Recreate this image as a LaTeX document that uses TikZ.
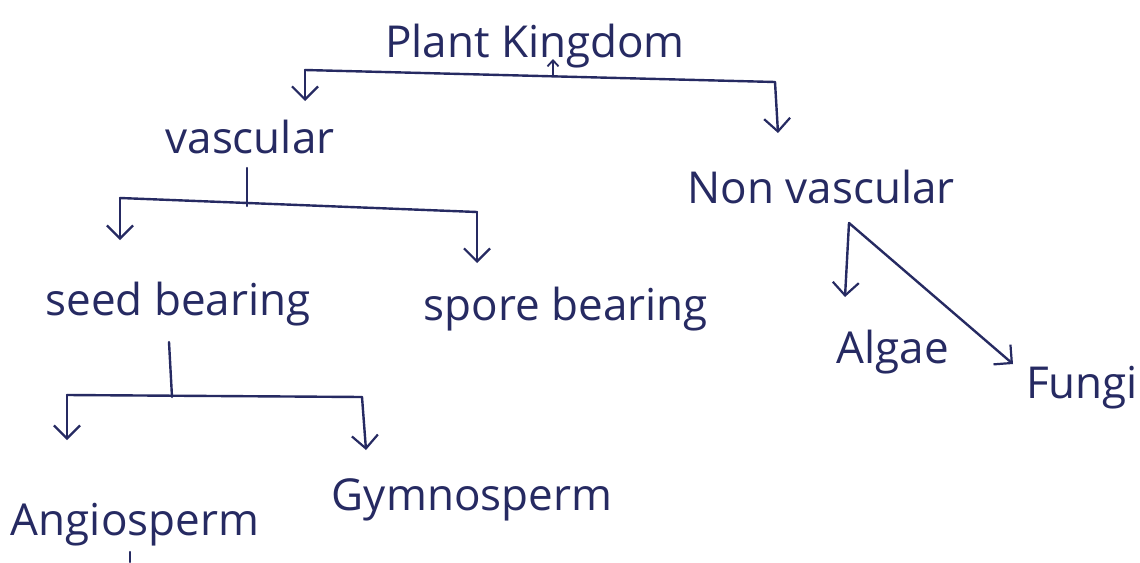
\documentclass[tikz,border=0pt]{standalone}
\usepackage{fontspec}
\setmainfont{Open Sans}
\usetikzlibrary{arrows.meta}
\definecolor{ink}{RGB}{38,42,98}
\begin{document}
\begin{tikzpicture}[x=1pt,y=-1pt,
  lbl/.style={text=ink, font=\fontsize{44}{50}\selectfont, anchor=base, inner sep=0pt},
  ln/.style={draw=ink, line width=2.4pt, line cap=round, line join=round},
  arr/.style={ln, -{Straight Barb[length=13pt,width=26pt,line width=2.2pt]}},
  smallarr/.style={ln, -{Straight Barb[length=6pt,width=11pt,line width=1.8pt]}}]
\useasboundingbox (0,0) rectangle (1140,562);
\fill[white] (0,0) rectangle (1140,562);

% labels
\node[lbl] (pk) at (535,57) {Plant Kingdom};
\node[lbl] (vasc) at (250,153) {vascular};
\node[lbl] (nonv) at (821,203) {Non vascular};
\node[lbl] (seed) at (178,315) {seed bearing};
\node[lbl] (spore) at (566,320) {spore bearing};
\node[lbl] (algae) at (893,363) {Algae};
\node[lbl] (fungi) at (1082,398) {Fungi};
\node[lbl] (angio) at (135,535) {Angiosperm};
\node[lbl] (gymno) at (472,510) {Gymnosperm};

% Plant Kingdom bracket
\coordinate (k1) at (305,70);
\coordinate (k2) at (775,82);
\coordinate (kj) at (553,75);
\coordinate (kup) at (553,59);
\coordinate (k1e) at (305,101);
\coordinate (k2e) at (778,133);
\draw[ln] (k1) -- (k2);
\draw[smallarr] (kj) -- (kup);
\draw[arr] (k1) -- (k1e);
\draw[arr] (k2) -- (k2e);

% vascular bracket
\coordinate (v0) at (247,168);
\coordinate (vj) at (247,206);
\coordinate (v1) at (120,198);
\coordinate (v2) at (477,212);
\coordinate (v1e) at (120,240);
\coordinate (v2e) at (477,263);
\draw[ln] (v0) -- (vj);
\draw[ln] (v1) -- (v2);
\draw[arr] (v1) -- (v1e);
\draw[arr] (v2) -- (v2e);

% non vascular
\coordinate (n0) at (849,223);
\coordinate (n1e) at (845,297);
\coordinate (n2e) at (1013,364);
\draw[arr] (n0) -- (n1e);
\draw[arr] (n0) -- (n2e);

% seed bearing bracket
\coordinate (s0) at (169,342);
\coordinate (sj) at (172,397);
\coordinate (s1) at (67,395);
\coordinate (s2) at (362,397);
\coordinate (s1e) at (67,440);
\coordinate (s2e) at (366,450);
\draw[ln] (s0) -- (sj);
\draw[ln] (s1) -- (s2);
\draw[arr] (s1) -- (s1e);
\draw[arr] (s2) -- (s2e);

% stub below Angiosperm
\coordinate (a0) at (130,552);
\coordinate (a1) at (130,562);
\draw[ln] (a0) -- (a1);
\end{tikzpicture}
\end{document}
